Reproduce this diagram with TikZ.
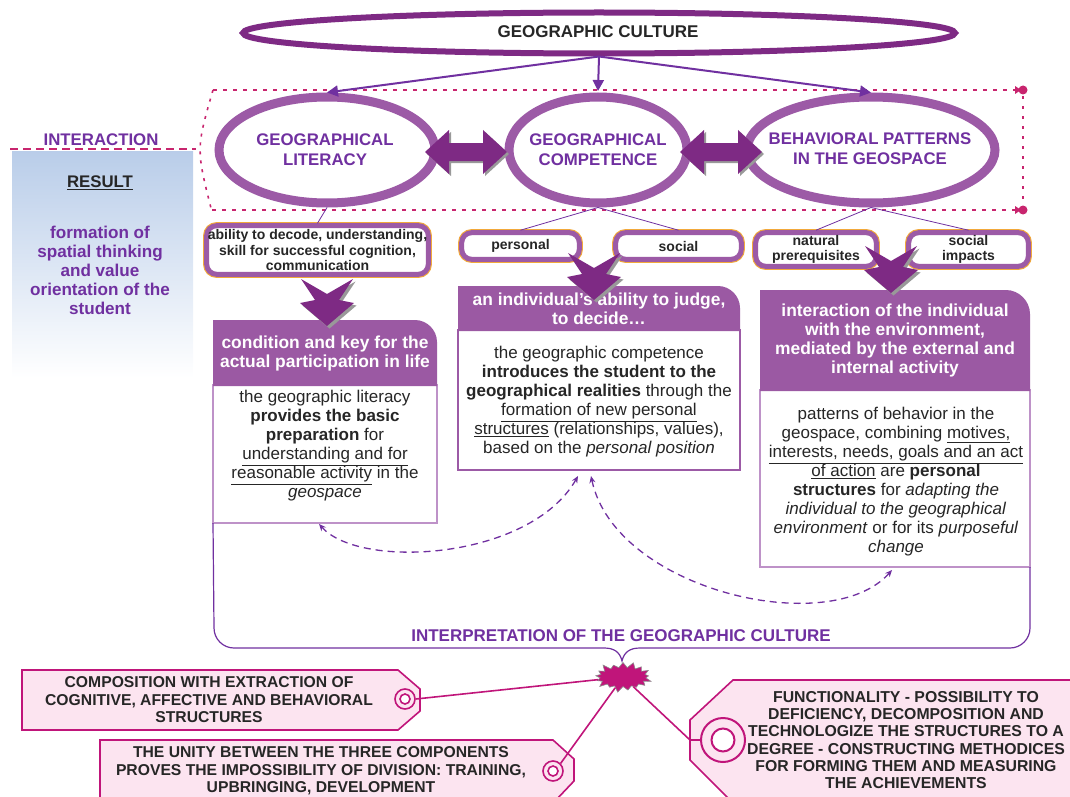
\documentclass[tikz,border=0pt]{standalone}
\usepackage{fontspec}
\setmainfont{Liberation Sans}
\usetikzlibrary{shapes.geometric,shapes.symbols,arrows.meta,calc}

\definecolor{dpurple}{HTML}{7E2A84}
\definecolor{mpurple}{HTML}{9C5AA6}
\definecolor{tpurple}{HTML}{7030A0}
\definecolor{hdr}{HTML}{9B59A3}
\definecolor{lborder}{HTML}{BE92C8}
\definecolor{crim}{HTML}{C8256E}
\definecolor{mag}{HTML}{C0157A}
\definecolor{tagfill}{HTML}{FCE4F0}
\definecolor{ink}{HTML}{262626}
\definecolor{gold}{HTML}{F2A93B}
\definecolor{bluetop}{HTML}{B9CDE9}

\newcommand{\fsz}[2]{\fontsize{#1}{#2}\selectfont}

\begin{document}
\begin{tikzpicture}[x=1pt,y=-1pt,
  ringell/.style={ellipse, draw=mpurple, line width=9pt, fill=white, inner sep=0pt},
  elltext/.style={font=\bfseries\fsz{16.8}{20}, text=tpurple, align=center, inner sep=0pt},
  lblbox/.style={rectangle, rounded corners=10pt, fill=white, draw=mpurple, line width=5pt,
    preaction={draw=gold, line width=7.2pt}, font=\bfseries\fsz{14}{15.5}, text=ink,
    align=center, inner sep=0pt},
  bodybox/.style={rectangle, draw=lborder, line width=1.2pt, fill=white, outer sep=0pt, inner sep=0pt},
  bodytext/.style={font=\fsz{17}{19}, text=ink, align=center, inner sep=0pt},
  hdrtext/.style={font=\bfseries\fsz{17.4}{19}, text=white, align=center, inner sep=0pt},
  tagtext/.style={font=\bfseries\fsz{15.7}{17.5}, text=ink, align=center, inner sep=0pt},
  tagshape/.style={fill=tagfill, draw=mag, line width=1.6pt},
  ring/.style={circle, draw=mag, line width=1.6pt, fill=tagfill, inner sep=0pt},
  toparrow/.style={draw=tpurple, line width=2pt, -{Triangle[length=11pt,width=11pt]}},
  twig/.style={draw=tpurple, line width=0.8pt},
  dashcurve/.style={draw=tpurple, line width=1.3pt, dash pattern=on 7pt off 5pt,
    {Stealth[length=7pt,width=6pt]}-{Stealth[length=7pt,width=6pt]}},
  frameline/.style={draw=crim, line width=1.6pt},
  feeder/.style={draw=mag, line width=1.6pt},
  pics/downchev/.style={code={
    \fill[black!40, shift={(2.5,2.5)}] (-26,-47) -- (0,-32) -- (26,-47) -- (12,-26) -- (27,-23) -- (0,0) -- (-27,-23) -- (-12,-26) -- cycle;
    \fill[dpurple] (-26,-47) -- (0,-32) -- (26,-47) -- (12,-26) -- (27,-23) -- (0,0) -- (-27,-23) -- (-12,-26) -- cycle;
  }},
  pics/dblarrow/.style={code={
    \fill[black!40, shift={(2,2)}] (-41,0) -- (-17,-22) -- (-17,-9) -- (17,-9) -- (17,-22) -- (41,0) -- (17,22) -- (17,9) -- (-17,9) -- (-17,22) -- cycle;
    \fill[dpurple] (-41,0) -- (-17,-22) -- (-17,-9) -- (17,-9) -- (17,-22) -- (41,0) -- (17,22) -- (17,9) -- (-17,9) -- (-17,22) -- cycle;
  }}
]
\useasboundingbox (0,0) rectangle (1070,797);

% ---- result panel on the left
\shade[top color=bluetop, bottom color=white] (12,151) rectangle (193,378);
\node[font=\bfseries\fsz{16.8}{19}, text=tpurple, inner sep=0pt] (interaction) at (101,140) {INTERACTION};
\draw[frameline, dash pattern=on 8pt off 5pt] (10,149) -- (196,149);
\node[font=\bfseries\fsz{16.8}{19}, text=ink, inner sep=0pt] (result) at (100,183) {\underline{RESULT}};
\node[font=\bfseries\fsz{17.1}{19}, text=tpurple, align=center, inner sep=0pt] (formation) at (100,270)
  {formation of\\spatial thinking\\and value\\orientation of the\\student};

% ---- dotted frame around the three components
\draw[frameline, dash pattern=on 4pt off 6pt] (213,90) -- (1018,90);
\draw[frameline, dash pattern=on 4pt off 6pt] (212,210) -- (1018,210);
\draw[frameline, dash pattern=on 3pt off 7pt] (1023,96) -- (1023,204);
\draw[frameline, dash pattern=on 3pt off 6pt] (213,90) .. controls (196,149) .. (212,212);
\foreach \yy in {90,210}{
  \fill[crim] (1023,\yy) circle (4.5pt);
  \fill[crim] (1015,\yy-4) -- (1021,\yy) -- (1015,\yy+4) -- cycle;
}

% ---- top concept
\node[ellipse, draw=dpurple, line width=6pt, fill=white, minimum width=712pt, minimum height=41pt, inner sep=0pt]
  (culture) at (599,33) {};
\node[font=\bfseries\fsz{17}{20}, text=ink, inner sep=0pt] (culturetext) at (598,32) {GEOGRAPHIC CULTURE};

% ---- three components
\node[ringell, minimum width=216pt, minimum height=106pt] (lit) at (327,150) {};
\node[ringell, minimum width=178pt, minimum height=106pt] (comp) at (598,150) {};
\node[ringell, minimum width=248pt, minimum height=106pt] (beh) at (871,150) {};
\node[elltext] (littext) at (325,150) {GEOGRAPHICAL\\LITERACY};
\node[elltext] (comptext) at (598,150) {GEOGRAPHICAL\\COMPETENCE};
\node[elltext] (behtext) at (870,149) {BEHAVIORAL PATTERNS\\IN THE GEOSPACE};

\draw[toparrow] (culture.south) -- (lit.north);
\draw[toparrow] (culture.south) -- (598,91);
\draw[toparrow] (culture.south) -- (beh.north);

\pic (dbl1) at (466,152) {dblarrow};
\pic (dbl2) at (721,152) {dblarrow};

% ---- sub-labels
\node[lblbox, minimum width=221.6pt, minimum height=48.6pt] (lb1) at (317.5,250)
  {ability to decode, understanding,\\skill for successful cognition,\\communication};
\node[lblbox, minimum width=117.6pt, minimum height=26.6pt] (lb2) at (520.5,246) {personal};
\node[lblbox, minimum width=125.6pt, minimum height=26.6pt] (lb3) at (678.5,246) {social};
\node[lblbox, minimum width=120.6pt, minimum height=33.6pt] (lb4) at (816,249.5) {natural\\prerequisites};
\node[lblbox, minimum width=119.6pt, minimum height=33.6pt] (lb5) at (968.5,249.5) {social\\impacts};

\draw[twig] (lit.south) -- (lb1.north);
\draw[twig] (comp.south) -- (lb2.north);
\draw[twig] (comp.south) -- (lb3.north);
\draw[twig] (beh.south) -- (lb4.north);
\draw[twig] (beh.south) -- (lb5.north);

% ---- explanation boxes
\node[bodybox, minimum width=224pt, minimum height=138pt, anchor=north west] (b1) at (213,385) {};
\node[bodybox, draw=mpurple, minimum width=282pt, minimum height=140pt, anchor=north west] (b2) at (458,330) {};
\node[bodybox, minimum width=270pt, minimum height=177pt, anchor=north west] (b3) at (760,390) {};

\fill[hdr] (213,386) -- (213,320) -- (415,320) .. controls (427,320) and (437,330) .. (437,342) -- (437,386) -- cycle;
\fill[hdr] (458,331) -- (458,286) -- (718,286) .. controls (730,286) and (740,296) .. (740,308) -- (740,331) -- cycle;
\fill[hdr] (760,391) -- (760,290) -- (1006,290) .. controls (1019,290) and (1030,301) .. (1030,314) -- (1030,391) -- cycle;

\node[hdrtext] (h1) at (325,353) {condition and key for the\\actual participation in life};
\node[hdrtext] (h2) at (599,309) {an individual's ability to judge,\\to decide\dots};
\node[hdrtext] (h3) at (895,340) {interaction of the individual\\with the environment,\\mediated by the external and\\internal activity};

\node[bodytext] (t1) at (325,446) {the geographic literacy\\
  \textbf{provides the basic}\\
  \textbf{preparation} for\\
  \underline{understanding and for}\\
  \underline{reasonable activity} in the\\
  \textit{geospace}};
\node[bodytext] (t2) at (599,402) {the geographic competence\\
  \textbf{introduces the student to the}\\
  \textbf{geographical realities} through the\\
  \underline{formation of new personal}\\
  \underline{structures} (relationships, values),\\
  based on the \textit{personal position}};
\node[bodytext] (t3) at (896,482) {patterns of behavior in the\\
  geospace, combining \underline{motives,}\\
  \underline{interests, needs, goals and an act}\\
  \underline{of action} are \textbf{personal}\\
  \textbf{structures} for \textit{adapting the}\\
  \textit{individual to the geographical}\\
  \textit{environment} or for its \textit{purposeful}\\
  \textit{change}};

% ---- chevrons leading down to the boxes
\pic (ch1) at (327,326) {downchev};
\pic (ch2) at (594,300) {downchev};
\pic (ch3) at (891,293) {downchev};

% ---- mutual links between the boxes
\coordinate (pa) at (578,476);
\coordinate (pb) at (591,476);
\draw[dashcurve] (pa) .. controls (530,560) and (360,570) .. ($(b1.south)+(-6,1)$);
\draw[dashcurve] (pb) .. controls (615,590) and (830,640) .. ($(b3.south)+(-3,3)$);

% ---- interpretation brace
\draw[draw=tpurple, line width=1.2pt] (b1.south west) -- (214,628) .. controls (214,639) and (223,648) .. (234,648)
  -- (604,648) .. controls (614,648) and (620,652) .. (622,661)
  .. controls (624,652) and (630,648) .. (640,648) -- (1010,648)
  .. controls (1021,648) and (1030,639) .. (1030,628) -- (b3.south east);
\node[font=\bfseries\fsz{17}{20}, text=tpurple, inner sep=0pt] (interp) at (621,636)
  {INTERPRETATION OF THE GEOGRAPHIC CULTURE};

% ---- tags
\fill[tagshape] (22,670) -- (398,670) -- (420,689) -- (420,711) -- (398,730) -- (22,730) -- cycle;
\fill[tagshape] (100,740) -- (553,740) -- (574,759) -- (574,781) -- (556,800) -- (100,800) -- cycle;
\fill[tagshape] (733,680) -- (1075,680) -- (1075,805) -- (735,805) -- (690,760) -- (690,720) -- cycle;

\node[tagtext] (tag1) at (209,700) {COMPOSITION WITH EXTRACTION OF\\COGNITIVE, AFFECTIVE AND BEHAVIORAL\\STRUCTURES};
\node[tagtext] (tag2) at (321,771) {THE UNITY BETWEEN THE THREE COMPONENTS\\PROVES THE IMPOSSIBILITY OF DIVISION: TRAINING,\\UPBRINGING, DEVELOPMENT};
\node[tagtext, font=\bfseries\fsz{15.8}{17.2}] (tag3) at (906,740) {FUNCTIONALITY - POSSIBILITY TO\\DEFICIENCY, DECOMPOSITION AND\\TECHNOLOGIZE THE STRUCTURES TO A\\DEGREE - CONSTRUCTING METHODICES\\FOR FORMING THEM AND MEASURING\\THE ACHIEVEMENTS};

\node[ring, minimum size=20pt] (ring1) at (405,699) {};
\draw[mag, line width=1.6pt, fill=white] (ring1.center) circle (5pt);
\node[ring, minimum size=20pt] (ring2) at (553,771) {};
\draw[mag, line width=1.6pt, fill=white] (ring2.center) circle (5pt);
\node[ring, line width=2pt, minimum size=44pt] (ring3) at (723,740) {};
\draw[mag, line width=2pt, fill=white] (ring3.center) circle (11.5pt);

% ---- central burst and its feeders
\node[starburst, starburst points=17, starburst point height=7pt, fill=mag, draw=black!45, line width=0.6pt,
  minimum width=60pt, minimum height=33pt, inner sep=0pt] (burst) at (623,677) {};
\coordinate (c3) at (690,740);
\draw[feeder] (burst) -- (ring1.east);
\draw[feeder] (burst) -- (ring2.north east);
\draw[feeder] (burst) -- (c3) -- (ring3.west);
\end{tikzpicture}
\end{document}
